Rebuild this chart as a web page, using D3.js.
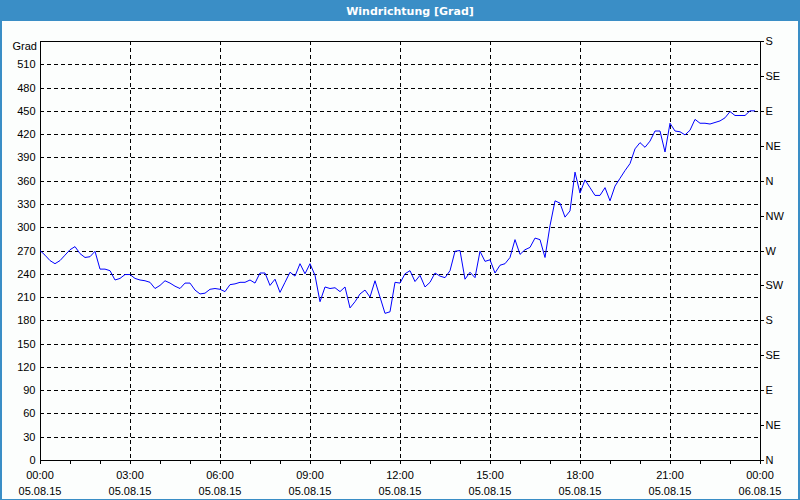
<!DOCTYPE html>
<html>
<head>
<meta charset="utf-8">
<script src="https://cdn.jsdelivr.net/npm/d3@7"></script>
<style>
  html, body { margin: 0; padding: 0; background: #fcfefd; }
  svg { display: block; }
  text { font-family: "Liberation Sans", Arial, sans-serif; font-size: 11px; fill: #000; }
</style>
</head>
<body>
<svg id="chart" width="800" height="500"></svg>
<script>
const title = "Windrichtung [Grad]";
const yAxisTitle = "Grad";
const yTicks = [0, 30, 60, 90, 120, 150, 180, 210, 240, 270, 300, 330, 360, 390, 420, 450, 480, 510];
const compassTicks = [0, 45, 90, 135, 180, 225, 270, 315, 360, 405, 450, 495, 540];
const compassLabels = ["N", "NE", "E", "SE", "S", "SW", "W", "NW", "N", "NE", "E", "SE", "S"];
const xTickHours = [0, 3, 6, 9, 12, 15, 18, 21, 24];
const xTimeLabels = ["00:00", "03:00", "06:00", "09:00", "12:00", "15:00", "18:00", "21:00", "00:00"];
const xDateLabels = ["05.08.15", "05.08.15", "05.08.15", "05.08.15", "05.08.15", "05.08.15", "05.08.15", "05.08.15", "06.08.15"];
// wind direction, one value every 10 minutes starting 05.08.15 00:00
const values = [
  270, 264, 257, 253, 257, 264, 271, 275, 266, 261, 262, 269,
  246, 246, 244, 232, 234, 239, 239, 234, 232, 231, 229, 221,
  225, 231, 228, 224, 221, 228, 228, 219, 214, 215, 220, 221,
  220, 217, 226, 227, 229, 229, 232, 228, 241, 241, 225, 233,
  216, 229, 242, 237, 253, 240, 253, 238, 204, 223, 221, 222,
  217, 223, 196, 204, 214, 219, 210, 231, 210, 189, 191, 229,
  228, 240, 244, 230, 238, 223, 229, 241, 237, 235, 244, 269,
  270, 233, 242, 235, 269, 256, 258, 241, 251, 253, 261, 284,
  265, 271, 274, 286, 284, 261, 302, 334, 331, 313, 321, 371,
  344, 361, 351, 341, 341, 351, 334, 353, 363, 373, 382, 401,
  409, 403, 411, 424, 424, 397, 434, 424, 423, 419, 425, 439,
  434, 434, 433, 435, 437, 441, 449, 444, 444, 444, 450, 450
];

(function () {
const svg = d3.select("#chart");
const W = 800, H = 500;
const mLeft = 40, mRight = 760, mTop = 41, mBottom = 460;

svg.append("rect").attr("x", 0).attr("y", 0).attr("width", W).attr("height", H).attr("fill", "#fcfefd");
// frame
svg.append("rect").attr("x", 0).attr("y", 0).attr("width", 2).attr("height", H).attr("fill", "#3a8ec6");
svg.append("rect").attr("x", W - 2).attr("y", 0).attr("width", 2).attr("height", H).attr("fill", "#3a8ec6");
svg.append("rect").attr("x", 0).attr("y", H - 1).attr("width", W).attr("height", 1).attr("fill", "#3a8ec6");
// title bar
svg.append("rect").attr("x", 0).attr("y", 0).attr("width", W).attr("height", 21).attr("fill", "#3a8ec6");
svg.append("text").attr("x", 410).attr("y", 15).attr("text-anchor", "middle")
  .style("font-family", "'DejaVu Sans', Verdana, sans-serif").style("font-size", "11px")
  .style("font-weight", "bold").style("fill", "#fff").text(title);

const t0 = new Date(2015, 7, 5, 0, 0);
const t1 = new Date(2015, 7, 6, 0, 0);
const x = d3.scaleTime().domain([t0, t1]).range([mLeft, mRight]);
const y = d3.scaleLinear().domain([0, 540]).range([mBottom, mTop]);
const yR = d3.scaleLinear().domain([0, 540]).range([mBottom, mTop]);

const data = values.map((v, i) => ({ t: new Date(t0.getTime() + i * 10 * 60000), v }));

// gridlines
const grid = svg.append("g").attr("shape-rendering", "crispEdges");
grid.selectAll("line.h").data(yTicks.filter(d => d > 0)).join("line")
  .attr("x1", mLeft).attr("x2", mRight)
  .attr("y1", d => Math.round(y(d)) + 0.5).attr("y2", d => Math.round(y(d)) + 0.5)
  .attr("stroke", "#000").attr("stroke-dasharray", "4,3");
grid.selectAll("line.v").data(xTickHours.filter(h => h > 0 && h < 24)).join("line")
  .attr("x1", h => Math.round(x(d3.timeHour.offset(t0, h))) + 0.5)
  .attr("x2", h => Math.round(x(d3.timeHour.offset(t0, h))) + 0.5)
  .attr("y1", mTop).attr("y2", mBottom)
  .attr("stroke", "#000").attr("stroke-dasharray", "4,3");

// left axis
const yAxis = d3.axisLeft(y).tickValues(yTicks).tickSize(0).tickPadding(5);
const gy = svg.append("g").attr("transform", `translate(${mLeft + 0.5},0)`).call(yAxis);
gy.select(".domain").remove();
gy.selectAll("text").style("font-family", "'Liberation Sans', Arial, sans-serif").style("font-size", "11px");

// right compass axis
const rAxis = d3.axisRight(yR).tickValues(compassTicks).tickFormat((d, i) => compassLabels[i]).tickSize(3).tickPadding(2);
const gr = svg.append("g").attr("transform", `translate(${mRight + 0.5},0)`).call(rAxis);
gr.select(".domain").remove();
gr.selectAll("text").style("font-family", "'Liberation Sans', Arial, sans-serif").style("font-size", "11px");
gr.selectAll("line").attr("shape-rendering", "crispEdges");

// bottom axis: minor hourly ticks
const xAxis = d3.axisBottom(x).ticks(d3.timeHour.every(1)).tickSize(3).tickFormat("");
const gx = svg.append("g").attr("transform", `translate(0,${mBottom + 0.5})`).call(xAxis);
gx.select(".domain").remove();
gx.selectAll("line").attr("shape-rendering", "crispEdges");

const xl = svg.append("g");
xl.selectAll("text.time").data(xTickHours).join("text")
  .attr("x", h => x(d3.timeHour.offset(t0, h)))
  .attr("y", 479).attr("text-anchor", "middle").text((h, i) => xTimeLabels[i]);
xl.selectAll("text.date").data(xTickHours).join("text")
  .attr("x", h => x(d3.timeHour.offset(t0, h)))
  .attr("y", 495).attr("text-anchor", "middle").text((h, i) => xDateLabels[i]);

// frame of plot
svg.append("rect").attr("x", mLeft + 0.5).attr("y", mTop + 0.5)
  .attr("width", mRight - mLeft).attr("height", mBottom - mTop)
  .attr("fill", "none").attr("stroke", "#000").attr("shape-rendering", "crispEdges");

svg.append("text").attr("x", 37).attr("y", 50).attr("text-anchor", "end").text(yAxisTitle);

// data line
const line = d3.line().x(d => x(d.t)).y(d => y(d.v));
svg.append("path").datum(data).attr("d", line)
  .attr("fill", "none").attr("stroke", "#0000ff").attr("stroke-width", 1);
})();
</script>
</body>
</html>
